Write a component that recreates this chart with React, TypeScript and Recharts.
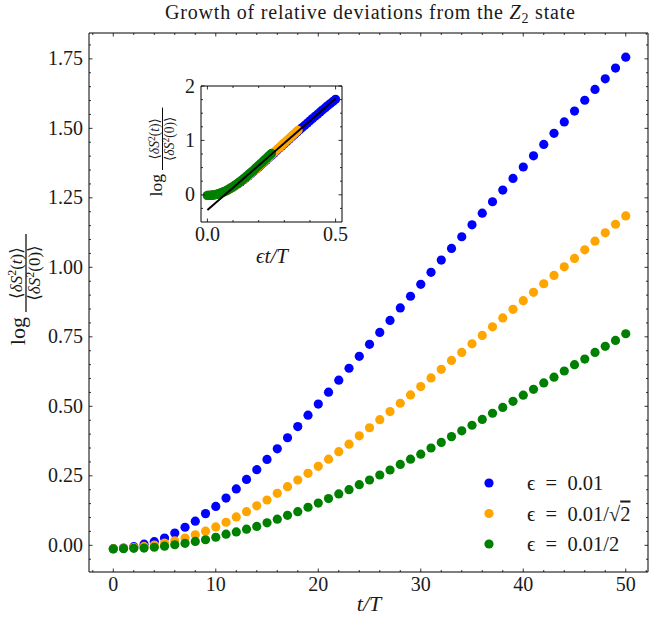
import React from "react";
import { ScatterChart, Scatter, XAxis, YAxis, Legend } from "recharts";

const FONT = "'Liberation Serif', 'DejaVu Serif', serif";

// time steps t/T
const T = [
  0, 1, 2, 3, 4, 5, 6, 7, 8, 9, 10, 11, 12, 13, 14, 15, 16, 17, 18, 19, 20,
  21, 22, 23, 24, 25, 26, 27, 28, 29, 30, 31, 32, 33, 34, 35, 36, 37, 38, 39, 40,
  41, 42, 43, 44, 45, 46, 47, 48, 49, 50,
];

// log <dS^2(t)>/<dS^2(0)>, eps = 0.01
const BLUE = [
  -0.012, -0.01, -0.005, 0.004, 0.013, 0.026, 0.044, 0.065, 0.087, 0.114, 0.14,
  0.17, 0.203, 0.237, 0.272, 0.309, 0.347, 0.387, 0.427, 0.468, 0.508,
  0.551, 0.594, 0.637, 0.68, 0.723, 0.766, 0.809, 0.854, 0.896, 0.939,
  0.982, 1.026, 1.068, 1.11, 1.153, 1.195, 1.236, 1.278, 1.32, 1.361,
  1.401, 1.442, 1.482, 1.523, 1.562, 1.601, 1.64, 1.678, 1.717, 1.756,
];

// eps = 0.01/sqrt(2)
const ORANGE = [
  -0.012, -0.011, -0.008, -0.004, 0.001, 0.008, 0.016, 0.026, 0.038, 0.051, 0.066,
  0.083, 0.102, 0.121, 0.142, 0.163, 0.187, 0.211, 0.235, 0.259, 0.284,
  0.31, 0.337, 0.364, 0.394, 0.423, 0.452, 0.481, 0.511, 0.541, 0.571,
  0.602, 0.633, 0.665, 0.694, 0.725, 0.755, 0.786, 0.818, 0.849, 0.88,
  0.91, 0.941, 0.971, 1.002, 1.032, 1.063, 1.094, 1.124, 1.155, 1.185,
];

// eps = 0.01/2
const GREEN = [
  -0.013, -0.012, -0.011, -0.01, -0.007, -0.003, 0.002, 0.007, 0.014, 0.02, 0.029,
  0.04, 0.048, 0.058, 0.068, 0.081, 0.094, 0.108, 0.121, 0.137, 0.152,
  0.168, 0.185, 0.2, 0.218, 0.235, 0.253, 0.271, 0.291, 0.31, 0.328,
  0.35, 0.37, 0.391, 0.412, 0.432, 0.453, 0.475, 0.496, 0.518, 0.54,
  0.561, 0.584, 0.605, 0.627, 0.65, 0.67, 0.694, 0.716, 0.737, 0.761,
];

const EPS = [0.01, 0.01 / Math.SQRT2, 0.005];

// linear fit shown in the inset
const FIT_X = [0, 0.5];
const FIT_Y = [-0.28, 1.77];

const X_MAJOR = [0, 10, 20, 30, 40, 50];
const X_MINOR = [-2, 2, 4, 6, 8, 12, 14, 16, 18, 22, 24, 26, 28, 32, 34, 36, 38, 42, 44, 46, 48, 52];
const Y_MAJOR = [0, 0.25, 0.5, 0.75, 1, 1.25, 1.5, 1.75];
const Y_MINOR = [
  -0.05, 0.05, 0.1, 0.15, 0.2, 0.3, 0.35, 0.4, 0.45, 0.55, 0.6, 0.65, 0.7, 0.8, 0.85,
  0.9, 0.95, 1.05, 1.1, 1.15, 1.2, 1.3, 1.35, 1.4, 1.45, 1.55, 1.6, 1.65, 1.7, 1.8,
];
const IX_MAJOR = [0, 0.5];
const IX_MINOR = [0.1, 0.2, 0.3, 0.4];
const IY_MAJOR = [0, 1, 2];
const IY_MINOR = [-0.25, 0.25, 0.5, 0.75, 1.25, 1.5, 1.75];

const SERIES = [
  { name: "0.01", color: "#0000ff", values: BLUE, eps: EPS[0] },
  { name: "0.01/sqrt2", color: "#ffa500", values: ORANGE, eps: EPS[1] },
  { name: "0.01/2", color: "#008000", values: GREEN, eps: EPS[2] },
];

const allTicks = (a: number[], b: number[]) => [...a, ...b].sort((p, q) => p - q);

function makeTick(side: string, majors: number[], fmt: ((v: number) => string) | null) {
  return (props: any) => {
    const { x, y, payload } = props;
    const v = payload.value;
    const major = majors.some((m) => Math.abs(m - v) < 1e-9);
    const len = major ? 3.5 : 2;
    let line = null;
    let label = null;
    if (side === "bottom") {
      line = <line x1={x} x2={x} y1={y} y2={y - len} />;
      if (fmt && major)
        label = <text x={x} y={y + 19} textAnchor="middle">{fmt(v)}</text>;
    } else if (side === "top") {
      line = <line x1={x} x2={x} y1={y} y2={y + len} />;
    } else if (side === "left") {
      line = <line x1={x} x2={x + len} y1={y} y2={y} />;
      if (fmt && major)
        label = <text x={x - 6} y={y + 6.5} textAnchor="end">{fmt(v)}</text>;
    } else {
      line = <line x1={x} x2={x - len} y1={y} y2={y} />;
    }
    return (
      <g stroke="none">
        <g stroke="#000" strokeWidth={0.8}>{line}</g>
        {label && (
          <g fontFamily={FONT} fontSize={20} fill="#1a1a1a">{label}</g>
        )}
      </g>
    );
  };
}

function FracLabel({ ox, oy, s }: { ox: number; oy: number; s: number }) {
  return (
    <g transform={`translate(${ox},${oy}) rotate(-90) scale(${s})`} fontFamily={FONT} fill="#1a1a1a">
      <text x={-5} y={-1} textAnchor="end" fontSize={22}>log</text>
      <line x1={0} x2={78} y1={0} y2={0} stroke="#000" strokeWidth={1.2} />
      <text x={39} y={-4} textAnchor="middle" fontSize={17}>
        ⟨<tspan fontStyle="italic">δS</tspan>
        <tspan dy={-6} fontSize={12}>2</tspan>
        <tspan dy={6}>(</tspan>
        <tspan fontStyle="italic">t</tspan>)⟩
      </text>
      <text x={39} y={14} textAnchor="middle" fontSize={17}>
        ⟨<tspan fontStyle="italic">δS</tspan>
        <tspan dy={-6} fontSize={12}>2</tspan>
        <tspan dy={6}>(0)⟩</tspan>
      </text>
    </g>
  );
}

function MainXLabel() {
  return (
    <g fontFamily={FONT} fill="#1a1a1a">
      <text x={370} y={19} textAnchor="middle" fontSize={20} textLength={410} lengthAdjust="spacing">
        Growth of relative deviations from the <tspan fontStyle="italic">Z</tspan>
        <tspan dy={4} fontSize={14}>2</tspan>
        <tspan dy={-4}> state</tspan>
      </text>
      <text x={369} y={611} textAnchor="middle" fontSize={22} fontStyle="italic">
        t/T
      </text>
    </g>
  );
}

function InsetXLabel() {
  return (
    <text x={132} y={187} textAnchor="middle" fontFamily={FONT} fontSize={21} fontStyle="italic" fill="#1a1a1a">
      ϵt/T
    </text>
  );
}

function LegendBox() {
  const rows = [
    { color: SERIES[0].color, text: <>ϵ{"\u2002"}={"\u2002"}0.01</> },
    {
      color: SERIES[1].color,
      text: (
        <>
          ϵ{"\u2002"}={"\u2002"}0.01/√<tspan style={{ textDecoration: "overline" }}>2</tspan>
        </>
      ),
    },
    { color: SERIES[2].color, text: <>ϵ{"\u2002"}={"\u2002"}0.01/2</> },
  ];
  return (
    <svg width={172} height={95}>
      {rows.map((r, i) => (
        <g key={i}>
          <circle cx={13} cy={17 + i * 30.5} r={4.6} fill={r.color} />
          <text x={51} y={17 + i * 30.5 + 7} fontFamily={FONT} fontSize={20.5} fill="#1a1a1a">
            {r.text}
          </text>
        </g>
      ))}
    </svg>
  );
}

const dot = (color: string) => (p: any) => <circle cx={p.cx} cy={p.cy} r={4.6} fill={color} />;
const none = () => <g />;

export default function App() {
  const mainData = SERIES.map((s) => T.map((t, i) => ({ t, v: s.values[i] })));
  const insetData = SERIES.map((s) => T.map((t, i) => ({ x: s.eps * t, v: s.values[i] })));
  const fitData = FIT_X.map((x, i) => ({ x, v: FIT_Y[i] }));

  const xd = [-2.37, 52.17];
  const yd = [-0.096, 1.843];
  const ixd = [-0.025, 0.525];
  const iyd = [-0.5, 2];

  return (
    <div style={{ position: "absolute", left: 0, top: 0, width: 649, height: 620, background: "#fff" }}>
      <ScatterChart width={649} height={620} margin={{ top: 32, right: 0, bottom: 0, left: 0 }}>
        <XAxis type="number" dataKey="t" domain={xd} allowDataOverflow ticks={allTicks(X_MAJOR, X_MINOR)} interval={0}
          height={48} tickSize={0} tickMargin={0} tickLine={false} axisLine={{ stroke: "#000" }}
          tick={makeTick("bottom", X_MAJOR, (v) => String(v))} label={<MainXLabel />} />
        <XAxis xAxisId="top" orientation="top" type="number" dataKey="t" domain={xd} allowDataOverflow
          ticks={allTicks(X_MAJOR, X_MINOR)} interval={0} height={1} tickSize={0} tickMargin={0} tickLine={false}
          axisLine={{ stroke: "#000" }} tick={makeTick("top", X_MAJOR, null)} />
        <YAxis type="number" dataKey="v" domain={yd} allowDataOverflow ticks={allTicks(Y_MAJOR, Y_MINOR)} interval={0}
          width={89} tickSize={0} tickMargin={0} tickLine={false} axisLine={{ stroke: "#000" }}
          tick={makeTick("left", Y_MAJOR, (v) => v.toFixed(2))} label={<FracLabel ox={26} oy={312} s={1} />} />
        <YAxis yAxisId="right" orientation="right" type="number" dataKey="v" domain={yd} allowDataOverflow
          ticks={allTicks(Y_MAJOR, Y_MINOR)} interval={0} width={1} tickSize={0} tickMargin={0} tickLine={false}
          axisLine={{ stroke: "#000" }} tick={makeTick("right", Y_MAJOR, null)} />
        {/* invisible series so the top and right frame axes are drawn */}
        <Scatter xAxisId="top" yAxisId="right" data={mainData[0]} shape={none} isAnimationActive={false} />
        {SERIES.map((s, k) => (
          <Scatter key={s.name} name={s.name} data={mainData[k]} fill={s.color} shape={dot(s.color)} isAnimationActive={false} />
        ))}
        <Legend layout="vertical" align="center" verticalAlign="middle"
          wrapperStyle={{ left: 476, top: 466, width: 172, height: 95 }} content={() => <LegendBox />} />
      </ScatterChart>

      <div style={{ position: "absolute", left: 140, top: 76, width: 210, height: 200 }}>
        <ScatterChart width={210} height={200} margin={{ top: 9, right: 7, bottom: 0, left: 0 }}>
          <XAxis type="number" dataKey="x" domain={ixd} allowDataOverflow ticks={allTicks(IX_MAJOR, IX_MINOR)} interval={0}
            height={54} tickSize={0} tickMargin={0} tickLine={false} axisLine={{ stroke: "#000" }}
            tick={makeTick("bottom", IX_MAJOR, (v) => v.toFixed(1))} label={<InsetXLabel />} />
          <XAxis xAxisId="top" orientation="top" type="number" dataKey="x" domain={ixd} allowDataOverflow
            ticks={allTicks(IX_MAJOR, IX_MINOR)} interval={0} height={1} tickSize={0} tickMargin={0} tickLine={false}
            axisLine={{ stroke: "#000" }} tick={makeTick("top", IX_MAJOR, null)} />
          <YAxis type="number" dataKey="v" domain={iyd} allowDataOverflow ticks={allTicks(IY_MAJOR, IY_MINOR)} interval={0}
            width={61} tickSize={0} tickMargin={0} tickLine={false} axisLine={{ stroke: "#000" }}
            tick={makeTick("left", IY_MAJOR, (v) => String(v))} label={<FracLabel ox={22.5} oy={94} s={0.8} />} />
          <YAxis yAxisId="right" orientation="right" type="number" dataKey="v" domain={iyd} allowDataOverflow
            ticks={allTicks(IY_MAJOR, IY_MINOR)} interval={0} width={1} tickSize={0} tickMargin={0} tickLine={false}
            axisLine={{ stroke: "#000" }} tick={makeTick("right", IY_MAJOR, null)} />
          <Scatter xAxisId="top" yAxisId="right" data={fitData} shape={none} isAnimationActive={false} />
          {SERIES.map((s, k) => (
            <Scatter key={s.name} data={insetData[k]} fill={s.color} shape={dot(s.color)} isAnimationActive={false} />
          ))}
          <Scatter data={fitData} line={{ stroke: "#000", strokeWidth: 2 }} shape={none} isAnimationActive={false} />
        </ScatterChart>
      </div>
    </div>
  );
}
